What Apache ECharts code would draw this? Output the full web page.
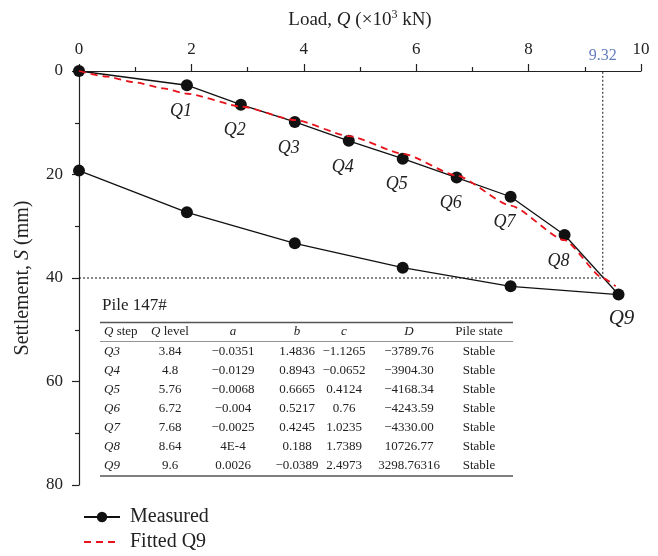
<!DOCTYPE html>
<html>
<head>
<meta charset="utf-8">
<title>Pile 147# load-settlement</title>
<script src="https://cdn.jsdelivr.net/npm/echarts@6.0.0/dist/echarts.min.js"></script>
<style>
    html, body { margin: 0; padding: 0; background: #fff; }
    #main { width: 658px; height: 556px; }
</style>
</head>
<body>
<div id="main"></div>
<script>
// measured loading branch (Q in 10^3 kN, S in mm)
var loadQ = [0, 1.92, 2.88, 3.84, 4.8, 5.76, 6.72, 7.68, 8.64, 9.6];
var loadS = [0, 2.75, 6.5, 9.85, 13.5, 16.95, 20.6, 24.3, 31.7, 43.2];
var stepNames = ['', 'Q1', 'Q2', 'Q3', 'Q4', 'Q5', 'Q6', 'Q7', 'Q8', 'Q9'];
// unloading branch
var unloadQ = [7.68, 5.76, 3.84, 1.92, 0];
var unloadS = [41.6, 38.0, 33.3, 27.3, 19.25];
// fitted curve for Q9
var fitQ = [0, 0.5, 1.0, 1.5, 1.93, 2.9, 3.85, 4.81, 5.77, 6.72, 7.68, 8.64, 9.32, 9.55];
var fitS = [0, 1.1, 2.2, 3.35, 4.4, 6.9, 9.5, 12.6, 16.0, 20.2, 26.0, 32.7, 40.0, 41.6];
// limit load marker
var limitQ = 9.32;
var limitS = 40;

var xTicks = [0, 10, 2];
var yTicks = [0, 80, 20];

// table values
var tblTitle = 'Pile 147#';
var tblStep = ['Q3', 'Q4', 'Q5', 'Q6', 'Q7', 'Q8', 'Q9'];
var tblLevel = ['3.84', '4.8', '5.76', '6.72', '7.68', '8.64', '9.6'];
var tblA = ['\u22120.0351', '\u22120.0129', '\u22120.0068', '\u22120.004', '\u22120.0025', '4E-4', '0.0026'];
var tblB = ['1.4836', '0.8943', '0.6665', '0.5217', '0.4245', '0.188', '\u22120.0389'];
var tblC = ['\u22121.1265', '\u22120.0652', '0.4124', '0.76', '1.0235', '1.7389', '2.4973'];
var tblD = ['\u22123789.76', '\u22123904.30', '\u22124168.34', '\u22124243.59', '\u22124330.00', '10726.77', '3298.76316'];
var tblState = ['Stable', 'Stable', 'Stable', 'Stable', 'Stable', 'Stable', 'Stable'];

var FONT = '"Liberation Serif", "Times New Roman", serif';

/**
 * 表格（graphic 元素）
 */
function buildTable() {
    var els = [];
    var left = 100, right = 513;
    var headY = 332, rowY0 = 351.5, rowH = 19;
    // column x positions and alignments
    var cols = [
        { x: 104, align: 'left', head: '{i|Q} step', vals: tblStep, italic: true },
        { x: 170, align: 'center', head: '{i|Q} level', vals: tblLevel },
        { x: 233, align: 'center', head: '{i|a}', vals: tblA },
        { x: 297, align: 'center', head: '{i|b}', vals: tblB },
        { x: 344, align: 'center', head: '{i|c}', vals: tblC },
        { x: 409, align: 'center', head: '{i|D}', vals: tblD },
        { x: 479, align: 'center', head: 'Pile state', vals: tblState }
    ];
    var rich = { i: { fontStyle: 'italic', fontFamily: FONT, fontSize: 13, fill: '#222' } };

    els.push({
        type: 'text', x: 102, y: 306,
        style: { text: tblTitle, fontFamily: FONT, fontSize: 17, fill: '#222', align: 'left', verticalAlign: 'middle' }
    });
    els.push({ type: 'line', shape: { x1: left, y1: 322.5, x2: right, y2: 322.5 }, style: { stroke: '#555', lineWidth: 1.6 } });
    els.push({ type: 'line', shape: { x1: left, y1: 341.5, x2: right, y2: 341.5 }, style: { stroke: '#777', lineWidth: 0.8 } });
    els.push({ type: 'line', shape: { x1: left, y1: 476, x2: right, y2: 476 }, style: { stroke: '#555', lineWidth: 1.4 } });

    for (var c = 0; c < cols.length; c++) {
        var col = cols[c];
        els.push({
            type: 'text', x: col.x, y: headY,
            style: { text: col.head, rich: rich, fontFamily: FONT, fontSize: 13, fill: '#222', align: col.align, verticalAlign: 'middle' }
        });
        for (var r = 0; r < col.vals.length; r++) {
            els.push({
                type: 'text', x: col.x, y: rowY0 + r * rowH,
                style: {
                    text: col.vals[r], fontFamily: FONT, fontSize: 13, fill: '#222',
                    fontStyle: col.italic ? 'italic' : 'normal',
                    align: col.align, verticalAlign: 'middle'
                }
            });
        }
    }
    return els;
}

function pairs(xs, ys) {
    var out = [];
    for (var i = 0; i < xs.length; i++) {
        out.push([xs[i], ys[i]]);
    }
    return out;
}

var chart = echarts.init(document.getElementById('main'));

// measured: loading then unloading, one polyline
var measured = [];
for (var i = 0; i < loadQ.length; i++) {
    var item = { value: [loadQ[i], loadS[i]] };
    if (stepNames[i]) {
        item.label = { show: true, formatter: stepNames[i] };
        if (i === loadQ.length - 1) {
            item.label.fontSize = 21;
            item.label.offset = [3, 0];
            item.label.distance = 7;
        }
    }
    measured.push(item);
}
for (var j = 0; j < unloadQ.length; j++) {
    measured.push({ value: [unloadQ[j], unloadS[j]] });
}

var option = {
    animation: false,
    backgroundColor: '#fff',
    textStyle: { fontFamily: FONT },
    grid: { left: 79, top: 71, right: 17, bottom: 71 },
    legend: {
        orient: 'vertical',
        left: 78,
        top: 502,
        height: 80,
        itemWidth: 36,
        itemHeight: 13,
        itemGap: 5,
        data: [{ name: 'Measured' }, { name: 'Fitted Q9', itemStyle: { opacity: 0 } }],
        formatter: function (name) { return '{s|}' + name; },
        textStyle: {
            fontFamily: FONT, fontSize: 20, color: '#222',
            rich: { s: { width: 5 } }
        }
    },
    xAxis: {
        type: 'value',
        position: 'top',
        min: xTicks[0], max: xTicks[1], interval: xTicks[2],
        name: 'Load, {i|Q} (\u00d710{sup|3} kN)',
        nameLocation: 'middle',
        nameGap: 40,
        nameTextStyle: {
            fontFamily: FONT, fontSize: 19, color: '#222',
            rich: {
                i: { fontStyle: 'italic', fontFamily: FONT, fontSize: 19, color: '#222' },
                sup: { fontFamily: FONT, fontSize: 12, color: '#222', verticalAlign: 'top', lineHeight: 22 }
            }
        },
        axisLine: { onZero: false, lineStyle: { color: '#222', width: 1.2 } },
        axisTick: { length: 7, lineStyle: { color: '#222', width: 1.2 } },
        minorTick: { show: true, splitNumber: 2, length: 4, lineStyle: { color: '#222', width: 1.2 } },
        axisLabel: { fontFamily: FONT, fontSize: 17, color: '#222', margin: 13 },
        splitLine: { show: false }
    },
    yAxis: {
        type: 'value',
        inverse: true,
        min: yTicks[0], max: yTicks[1], interval: yTicks[2],
        name: 'Settlement, {i|S} (mm)',
        nameLocation: 'middle',
        nameGap: 46,
        nameTextStyle: {
            fontFamily: FONT, fontSize: 20, color: '#222',
            rich: { i: { fontStyle: 'italic', fontFamily: FONT, fontSize: 20, color: '#222' } }
        },
        axisLine: { onZero: false, lineStyle: { color: '#222', width: 1.2 } },
        axisTick: { length: 7, lineStyle: { color: '#222', width: 1.2 } },
        minorTick: { show: true, splitNumber: 2, length: 4, lineStyle: { color: '#222', width: 1.2 } },
        axisLabel: { fontFamily: FONT, fontSize: 17, color: '#222', margin: 16 },
        splitLine: { show: false }
    },
    series: [{
        // dotted reference at Q = 9.32, S = 40
        name: 'ref',
        type: 'line',
        data: [[0, limitS], [limitQ, limitS], [limitQ, 0]],
        symbol: 'none',
        lineStyle: { color: '#111', width: 1, type: [2, 2] },
        z: 1,
        silent: true
    }, {
        name: 'Fitted Q9',
        type: 'line',
        data: pairs(fitQ, fitS),
        smooth: 0.2,
        smoothMonotone: 'x',
        symbol: 'none',
        lineStyle: { color: '#e8131b', width: 1.8, type: [7, 5] },
        itemStyle: { color: '#e8131b' },
        z: 3
    }, {
        name: 'Measured',
        type: 'line',
        data: measured,
        symbol: 'circle',
        symbolSize: 12,
        lineStyle: { color: '#111', width: 1.3 },
        itemStyle: { color: '#111' },
        label: {
            show: false,
            position: 'bottom',
            distance: 11,
            offset: [-6, 0],
            fontFamily: FONT,
            fontSize: 18,
            fontStyle: 'italic',
            color: '#222'
        },
        z: 2
    }, {
        // blue value above the axis
        name: 'limitLabel',
        type: 'scatter',
        data: [{
            value: [limitQ, 0],
            label: {
                show: true,
                formatter: String(limitQ),
                position: 'top',
                distance: 7,
                fontFamily: FONT,
                fontSize: 16,
                color: '#3b5bab'
            }
        }],
        symbolSize: 1,
        itemStyle: { color: 'rgba(0,0,0,0)' },
        silent: true,
        z: 5
    }],
    graphic: buildTable()
};

chart.setOption(option);
window.addEventListener('resize', function () {
    chart.resize();
});
</script>
</body>
</html>
